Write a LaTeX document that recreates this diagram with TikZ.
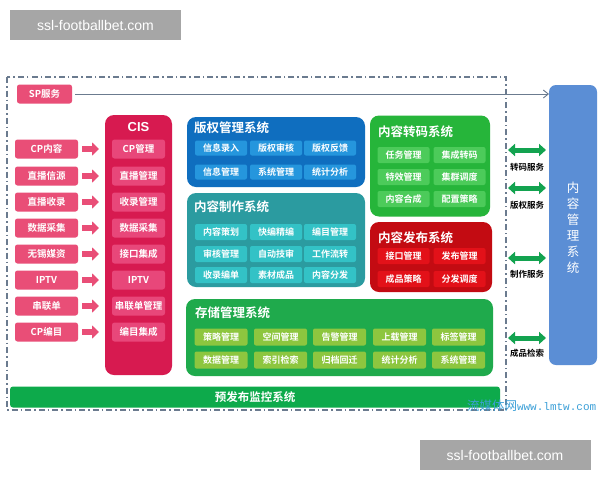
\documentclass[tikz,border=0pt]{standalone}
\usepackage{fontspec}
\setmainfont{Liberation Sans}
\newfontfamily\cjk{Noto Sans CJK SC}
\newfontfamily\cjkb{Noto Sans CJK SC Bold}
\newfontfamily\lmmono{Liberation Mono}
\usetikzlibrary{arrows.meta}
\definecolor{pk}{HTML}{E94E77}
\definecolor{cis}{HTML}{D71A50}
\definecolor{cisin}{HTML}{E8477A}
\definecolor{bdark}{HTML}{0F6EBF}
\definecolor{bin}{HTML}{2596DD}
\definecolor{teal}{HTML}{2B9BA0}
\definecolor{tealin}{HTML}{33C2C6}
\definecolor{gr}{HTML}{26B53A}
\definecolor{grin}{HTML}{4CCB5A}
\definecolor{rd}{HTML}{C30B12}
\definecolor{rdin}{HTML}{E31119}
\definecolor{st}{HTML}{1FAA4C}
\definecolor{stin}{HTML}{8DC63F}
\definecolor{bar}{HTML}{0DAA4B}
\definecolor{cmsb}{HTML}{5B8ED5}
\definecolor{dg}{HTML}{13A350}
\definecolor{frame}{HTML}{6B7B8F}
\definecolor{wm}{HTML}{A6A6A6}
\definecolor{lm}{HTML}{3CA0D8}
\tikzset{
  every node/.style={inner sep=0pt, outer sep=0pt},
  pkbox/.style={fill=pk, rounded corners=2.5pt, minimum width=63pt, minimum height=19pt, text=white, font=\cjkb\fontsize{9.5}{11}\selectfont},
  cisbox/.style={fill=cisin, rounded corners=2.5pt, minimum width=53pt, minimum height=19pt, text=white, font=\cjkb\fontsize{9.5}{11}\selectfont},
  bigbox/.style={rounded corners=9pt},
  title/.style={text=white, font=\cjkb\fontsize{12.5}{14}\selectfont, anchor=west},
  inbox/.style={rounded corners=2pt, minimum width=52pt, minimum height=15pt, text=white, font=\cjkb\fontsize{9}{10}\selectfont},
  blockarr/.style={draw=pk, line width=6pt, -{Triangle[length=7pt,width=13pt]}, shorten <=4pt, shorten >=13pt},
  dblarr/.style={draw=dg, line width=5pt, {Triangle[length=7pt,width=12pt]}-{Triangle[length=7pt,width=12pt]}},
  svc/.style={font=\cjkb\fontsize{8.5}{10}\selectfont, text=black},
  wmbox/.style={fill=wm, text=white, font=\fontsize{14}{16}\selectfont, minimum width=171pt, minimum height=30pt}
}
\begin{document}
\begin{tikzpicture}[x=1pt,y=-1pt]
\useasboundingbox (0,0) rectangle (600,480);
\fill[white] (0,0) rectangle (600,480);
% watermarks
\node[wmbox] (wm1) at (95.5,25) {ssl-footballbet.com};
\node[wmbox] (wm2) at (505,455) {ssl-footballbet.com};
% dashed frame
\draw[frame, line width=1.2pt, dash pattern=on 6pt off 3pt on 1.5pt off 3pt] (7,77) rectangle (506,410);
% right CMS
\node[fill=cmsb, rounded corners=7pt, minimum width=48pt, minimum height=280pt] (cms) at (573,225) {};
\node[text=white, font=\cjk\fontsize{12.5}{16}\selectfont, align=center] (cmst) at (573,228) {内\\容\\管\\理\\系\\统};
% SP
\node[pkbox, minimum width=55pt] (sp) at (44.5,94) {SP服务};
\draw[frame, line width=0.9pt, -{Straight Barb[length=5pt,width=8pt]}, shorten <=3pt] (sp.east) -- (sp.east -| cms.west);
% CIS
\node[fill=cis, rounded corners=9pt, minimum width=67pt, minimum height=260pt] (cis) at (138.5,245) {};
\node[text=white, font=\bfseries\fontsize{13}{15}\selectfont] (cist) at (138.5,127) {CIS};
\foreach \i/\y/\a/\b in {1/149/CP内容/CP管理, 2/176/直播信源/直播管理, 3/202/直播收录/收录管理, 4/228/数据采集/数据采集, 5/254/无锡媒资/接口集成, 6/280/IPTV/IPTV, 7/306/串联单/串联单管理, 8/332/CP编目/编目集成}{
  \node[pkbox] (l\i) at (46.5,\y) {\a};
  \node[cisbox] (c\i) at (138.5,\y) {\b};
  \draw[blockarr] (l\i) -- (c\i);
}
% copyright
\node[bigbox, fill=bdark, minimum width=178pt, minimum height=70pt] (cr) at (276,152) {};
\node[title] (crt) at (194,128) {版权管理系统};
\foreach \n/\x/\y/\t in {1/221/148/信息录入, 2/276/148/版权审核, 3/330/148/版权反馈, 4/221/172/信息管理, 5/276/172/系统管理, 6/330/172/统计分析}{
  \node[inbox, fill=bin, minimum height=15pt] (cr\n) at (\x,\y) {\t};
}
% production
\node[bigbox, fill=teal, minimum width=178pt, minimum height=94pt] (pr) at (276,240) {};
\node[title] (prt) at (194,207) {内容制作系统};
\foreach \n/\x/\y/\t in {1/221/232/内容策划, 2/276/232/快编精编, 3/330/232/编目管理, 4/221/254/审核管理, 5/276/254/自动技审, 6/330/254/工作流转, 7/221/275/收录编单, 8/276/275/素材成品, 9/330/275/内容分发}{
  \node[inbox, fill=tealin, minimum height=16pt] (pr\n) at (\x,\y) {\t};
}
% transcoding
\node[bigbox, fill=gr, minimum width=120pt, minimum height=101pt] (tc) at (430,166) {};
\node[title] (tct) at (378,132) {内容转码系统};
\foreach \n/\x/\y/\t in {1/403.5/155/任务管理, 2/459.5/155/集成转码, 3/403.5/177/特效管理, 4/459.5/177/集群调度, 5/403.5/199/内容合成, 6/459.5/199/配置策略}{
  \node[inbox, fill=grin, minimum height=16pt] (tc\n) at (\x,\y) {\t};
}
% publishing
\node[bigbox, fill=rd, minimum width=122pt, minimum height=70pt] (pb) at (431,257) {};
\node[title] (pbt) at (378,238) {内容发布系统};
\foreach \n/\x/\y/\t in {1/403.5/256/接口管理, 2/459.5/256/发布管理, 3/403.5/279/成品策略, 4/459.5/279/分发调度}{
  \node[inbox, fill=rdin, minimum height=16pt] (pb\n) at (\x,\y) {\t};
}
% storage
\node[bigbox, fill=st, minimum width=307pt, minimum height=77pt] (sg) at (339.5,337.5) {};
\node[title] (sgt) at (195,313) {存储管理系统};
\foreach \n/\x/\y/\t in {1/221/337/策略管理, 2/280.5/337/空间管理, 3/339.5/337/告警管理, 4/399.5/337/上载管理, 5/458.5/337/标签管理, 6/221/360/数据管理, 7/280.5/360/索引检索, 8/339.5/360/归档回迁, 9/399.5/360/统计分析, 10/458.5/360/系统管理}{
  \node[inbox, fill=stin, minimum width=53pt, minimum height=17pt] (sg\n) at (\x,\y) {\t};
}
% bottom bar
\node[fill=bar, rounded corners=3pt, minimum width=490pt, minimum height=21pt, text=white, font=\cjkb\fontsize{11.5}{13}\selectfont] (mon) at (255,397) {预发布监控系统};
% services
\foreach \n/\y/\ly/\t in {1/150/167/转码服务, 2/188/205/版权服务, 3/258/274/制作服务, 4/338/353/成品检索}{
  \coordinate (s\n) at (508,\y);
  \draw[dblarr, shorten >=3pt] (s\n) -- (s\n -| cms.west);
  \node[svc] (st\n) at (527,\ly) {\t};
}
% lmtw watermark
\node[anchor=west, text=lm, font=\cjk\fontsize{12.5}{13}\selectfont] (lmtw) at (467,406) {流媒体网{\lmmono\fontsize{11}{12}\selectfont www.lmtw.com}};
\end{tikzpicture}
\end{document}
